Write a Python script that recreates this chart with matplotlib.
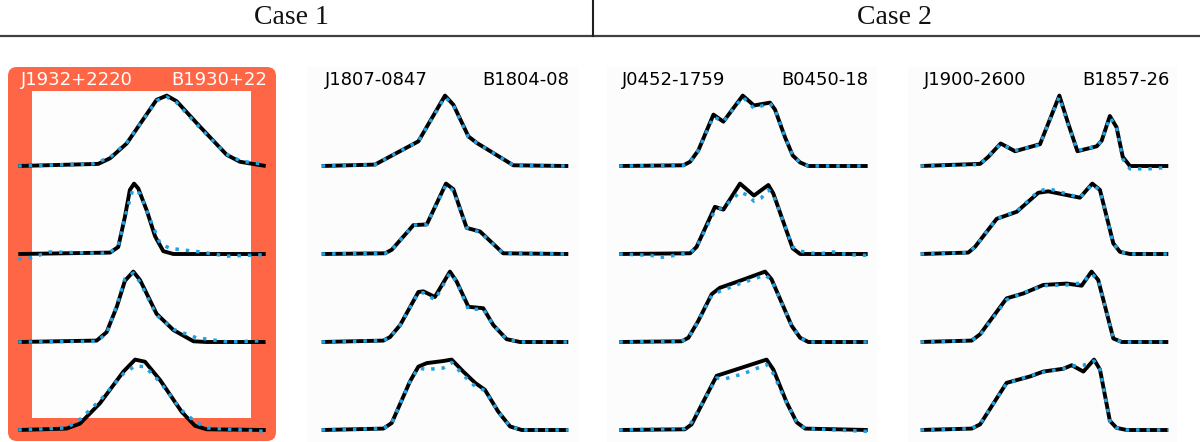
import matplotlib
matplotlib.use("Agg")
import matplotlib.pyplot as plt
from matplotlib.patches import FancyBboxPatch, Rectangle

W, H = 1200, 442

case_labels = ["Case 1", "Case 2"]
j_names = ["J1932+2220", "J1807-0847", "J0452-1759", "J1900-2600"]
b_names = ["B1930+22", "B1804-08", "B0450-18", "B1857-26"]

# ---- J1932+2220 (4 rows, model = solid, obs = dotted) ----
j1932_model_phase = [
    [0, 0.323, 0.371, 0.438, 0.559, 0.600, 0.640, 0.734, 0.842, 0.896, 1.0],
    [0, 0.371, 0.404, 0.431, 0.451, 0.468, 0.485, 0.519, 0.553, 0.586, 0.627, 1.0],
    [0, 0.317, 0.357, 0.398, 0.431, 0.465, 0.492, 0.559, 0.627, 0.708, 0.761, 1.0],
    [0, 0.195, 0.249, 0.330, 0.425, 0.472, 0.512, 0.573, 0.660, 0.714, 0.761, 1.0],
]
j1932_model_amp = [
    [0, 0.03, 0.11, 0.32, 0.94, 1.0, 0.92, 0.56, 0.16, 0.06, 0.0],
    [0, 0.02, 0.10, 0.53, 0.91, 1.0, 0.93, 0.62, 0.25, 0.04, 0.0, 0.0],
    [0, 0.02, 0.14, 0.50, 0.87, 1.0, 0.88, 0.40, 0.17, 0.01, 0.0, 0.0],
    [0, 0.02, 0.09, 0.38, 0.83, 1.0, 0.97, 0.71, 0.26, 0.06, 0.01, 0.0],
]
j1932_obs_phase = [
    [0, 0.30, 0.37, 0.44, 0.56, 0.60, 0.64, 0.74, 0.84, 0.90, 1.0],
    [0, 0.054, 0.128, 0.330, 0.371, 0.404, 0.431, 0.462, 0.492, 0.526, 0.573, 0.613, 0.734, 0.842, 1.0],
    [0, 0.317, 0.357, 0.398, 0.431, 0.465, 0.492, 0.559, 0.627, 0.72, 0.85, 1.0],
    [0, 0.195, 0.249, 0.330, 0.425, 0.472, 0.512, 0.573, 0.660, 0.714, 0.761, 1.0],
]
j1932_obs_amp = [
    [0.0, 0.03, 0.12, 0.34, 0.93, 0.98, 0.90, 0.52, 0.17, 0.07, 0.02],
    [-0.07, -0.05, 0.03, 0.01, 0.02, 0.12, 0.52, 0.91, 0.86, 0.55, 0.15, 0.08, 0.03, -0.03, -0.01],
    [0, 0.01, 0.12, 0.52, 0.90, 0.98, 0.85, 0.38, 0.18, 0.06, 0.0, 0.02],
    [0, 0.03, 0.15, 0.42, 0.80, 0.91, 0.90, 0.68, 0.28, 0.12, 0.03, -0.02],
]

# ---- J1807-0847 ----
j1807_model_phase = [
    [0, 0.216, 0.392, 0.500, 0.534, 0.595, 0.628, 0.777, 1.0],
    [0, 0.257, 0.284, 0.372, 0.426, 0.504, 0.534, 0.588, 0.642, 0.736, 1.0],
    [0, 0.250, 0.277, 0.318, 0.392, 0.412, 0.459, 0.520, 0.547, 0.595, 0.655, 0.696, 0.750, 0.804, 1.0],
    [0, 0.250, 0.284, 0.358, 0.392, 0.426, 0.493, 0.527, 0.574, 0.622, 0.662, 0.716, 0.764, 0.811, 1.0],
]
j1807_model_amp = [
    [0, 0.02, 0.35, 1.0, 0.87, 0.42, 0.33, 0.01, 0],
    [0, 0.01, 0.06, 0.41, 0.42, 1.0, 0.92, 0.37, 0.32, 0.01, 0],
    [0, 0.02, 0.07, 0.24, 0.71, 0.72, 0.64, 1.0, 0.86, 0.50, 0.48, 0.24, 0.04, 0, 0],
    [0, 0.02, 0.10, 0.69, 0.90, 0.95, 0.98, 1.0, 0.83, 0.67, 0.57, 0.26, 0.05, 0, 0],
]
j1807_obs_phase = j1807_model_phase
j1807_obs_amp = [
    [0, 0.02, 0.35, 0.98, 0.86, 0.41, 0.33, 0.01, 0],
    [0, 0.01, 0.06, 0.41, 0.42, 0.98, 0.90, 0.37, 0.31, 0.01, 0],
    [0, 0.02, 0.07, 0.24, 0.70, 0.70, 0.60, 0.98, 0.86, 0.46, 0.47, 0.24, 0.04, 0, 0],
    [0, 0.02, 0.10, 0.69, 0.88, 0.86, 0.88, 0.96, 0.78, 0.62, 0.56, 0.26, 0.05, 0, 0],
]

# ---- J0452-1759 ----
j0452_model_phase = [
    [0, 0.258, 0.285, 0.318, 0.379, 0.419, 0.497, 0.542, 0.607, 0.627, 0.667, 0.698, 0.728, 0.761, 1.0],
    [0, 0.285, 0.311, 0.385, 0.419, 0.486, 0.542, 0.600, 0.620, 0.667, 0.698, 0.728, 1.0],
    [0, 0.251, 0.278, 0.318, 0.372, 0.405, 0.486, 0.587, 0.613, 0.694, 0.728, 0.761, 1.0],
    [0, 0.264, 0.291, 0.392, 0.593, 0.620, 0.674, 0.714, 0.748, 1.0],
]
j0452_model_amp = [
    [0, 0.01, 0.06, 0.22, 0.73, 0.63, 1.0, 0.86, 0.90, 0.80, 0.41, 0.15, 0.05, 0, 0],
    [0, 0.01, 0.10, 0.67, 0.63, 1.0, 0.83, 0.98, 0.86, 0.39, 0.08, 0, 0],
    [0, 0.01, 0.06, 0.30, 0.68, 0.77, 0.87, 1.0, 0.89, 0.23, 0.06, 0, 0],
    [0, 0.01, 0.08, 0.77, 1.0, 0.86, 0.39, 0.11, 0.02, 0],
]
j0452_obs_phase = [
    [0, 0.258, 0.285, 0.318, 0.379, 0.419, 0.497, 0.542, 0.607, 0.627, 0.667, 0.698, 0.728, 0.761, 1.0],
    [0, 0.13, 0.16, 0.19, 0.285, 0.311, 0.385, 0.419, 0.486, 0.52, 0.542, 0.57, 0.600, 0.620,
     0.667, 0.698, 0.728, 0.80, 0.86, 0.92, 1.0],
    [0, 0.251, 0.278, 0.318, 0.372, 0.405, 0.486, 0.587, 0.613, 0.694, 0.728, 0.761, 1.0],
    [0, 0.264, 0.291, 0.392, 0.42, 0.50, 0.593, 0.620, 0.674, 0.714, 0.748, 1.0],
]
j0452_obs_amp = [
    [0, 0.01, 0.06, 0.22, 0.70, 0.63, 0.98, 0.82, 0.89, 0.80, 0.41, 0.15, 0.05, 0, 0],
    [0.0, -0.02, -0.05, -0.04, 0.02, 0.10, 0.62, 0.66, 0.88, 0.83, 0.75, 0.79, 0.91, 0.84,
     0.40, 0.10, 0.04, 0.0, 0.03, -0.01, -0.02],
    [0, 0.01, 0.06, 0.30, 0.66, 0.72, 0.83, 0.95, 0.88, 0.23, 0.06, 0, 0],
    [0, 0.02, 0.11, 0.74, 0.72, 0.80, 0.93, 0.80, 0.38, 0.12, 0.02, -0.02],
]

# ---- J1900-2600 ----
j1900_model_phase = [
    [0, 0.240, 0.273, 0.323, 0.381, 0.482, 0.509, 0.560, 0.596, 0.633, 0.711, 0.731, 0.764, 0.791, 0.816, 0.845, 1.0],
    [0, 0.192, 0.219, 0.307, 0.388, 0.475, 0.515, 0.643, 0.693, 0.724, 0.778, 0.805, 0.845, 1.0],
    [0, 0.206, 0.240, 0.347, 0.415, 0.495, 0.590, 0.650, 0.690, 0.717, 0.778, 0.812, 1.0],
    [0, 0.206, 0.240, 0.347, 0.441, 0.495, 0.576, 0.610, 0.657, 0.700, 0.724, 0.764, 0.791, 0.832, 1.0],
]
j1900_model_amp = [
    [0, 0.03, 0.13, 0.32, 0.21, 0.31, 0.55, 1.0, 0.60, 0.21, 0.28, 0.36, 0.71, 0.55, 0.13, 0, 0],
    [0, 0.02, 0.10, 0.50, 0.60, 0.87, 0.89, 0.80, 1.0, 0.91, 0.15, 0.03, 0, 0],
    [0, 0.02, 0.11, 0.62, 0.69, 0.81, 0.83, 0.80, 1.0, 0.88, 0.05, 0, 0],
    [0, 0.02, 0.08, 0.67, 0.76, 0.83, 0.87, 0.92, 0.83, 1.0, 0.86, 0.13, 0.03, 0, 0],
]
j1900_obs_phase = [
    [0, 0.240, 0.273, 0.323, 0.381, 0.482, 0.509, 0.560, 0.596, 0.633, 0.711, 0.731, 0.764, 0.791, 0.816, 0.845, 0.92, 1.0],
    [0, 0.192, 0.219, 0.307, 0.388, 0.475, 0.515, 0.643, 0.693, 0.724, 0.778, 0.805, 0.845, 1.0],
    [0, 0.206, 0.240, 0.347, 0.415, 0.495, 0.590, 0.650, 0.690, 0.717, 0.778, 0.812, 1.0],
    [0, 0.206, 0.240, 0.347, 0.441, 0.495, 0.576, 0.610, 0.657, 0.700, 0.724, 0.764, 0.791, 0.832, 1.0],
]
j1900_obs_amp = [
    [0, 0.02, 0.14, 0.31, 0.22, 0.30, 0.55, 0.98, 0.58, 0.22, 0.28, 0.36, 0.69, 0.55, 0.10, -0.04, -0.04, -0.02],
    [0, 0.02, 0.10, 0.50, 0.61, 0.89, 0.93, 0.80, 0.99, 0.90, 0.15, 0.03, 0, 0],
    [0, 0.02, 0.10, 0.60, 0.70, 0.80, 0.81, 0.84, 0.97, 0.88, 0.05, 0, 0],
    [0, 0.02, 0.09, 0.66, 0.77, 0.82, 0.87, 0.91, 0.92, 0.98, 0.86, 0.13, 0.03, 0, 0],
]

model_phase = [j1932_model_phase, j1807_model_phase, j0452_model_phase, j1900_model_phase]
model_amp = [j1932_model_amp, j1807_model_amp, j0452_model_amp, j1900_model_amp]
obs_phase = [j1932_obs_phase, j1807_obs_phase, j0452_obs_phase, j1900_obs_phase]
obs_amp = [j1932_obs_amp, j1807_obs_amp, j0452_obs_amp, j1900_obs_amp]

# layout in pixels
box_x = [(8, 276), (307, 578), (607, 877), (908, 1177)]
prof_x = [(18.3, 265.7), (321.7, 568.3), (619.3, 867.7), (920.7, 1168.3)]
box_top, box_bot = 67, 441
base0, row_step = 166, 88
highlight = "#ff6646"
dot_color = "#22a0e0"

fig = plt.figure(figsize=(W / 100, H / 100), dpi=100)

bg = fig.add_axes([0, 0, 1, 1])
bg.set_xlim(0, W)
bg.set_ylim(H, 0)
bg.axis("off")

# header
bg.axhline(35.5, color="#404040", lw=1.6)
bg.plot([593, 593], [0, 36], color="#202020", lw=1.5)
for lab, xc in zip(case_labels, [291, 894]):
    bg.text(xc, 18, lab, ha="center", va="center", fontsize=20,
            family="Liberation Serif", color="#111111")

for i in range(4):
    x0, x1 = box_x[i]
    if i == 0:
        bg.add_patch(FancyBboxPatch((x0, box_top), x1 - x0, box_bot - box_top,
                                    boxstyle="round,pad=0,rounding_size=9",
                                    fc=highlight, ec="none"))
        bg.add_patch(Rectangle((32, 91), 251 - 32, 418 - 91, fc="#fdfdfd", ec="none"))
    else:
        bg.add_patch(Rectangle((x0, box_top - 1), x1 - x0, H - box_top + 1,
                               fc="#fcfcfc", ec="none"))

    p0, p1 = prof_x[i]
    scale = p1 - p0
    ax = fig.add_axes([x0 / W, 1 - box_bot / H, (x1 - x0) / W, (box_bot - box_top) / H])
    ax.set_xlim((x0 - p0) / scale, 1 + (x1 - p1) / scale)
    ax.set_ylim(-(box_bot - base0) / row_step, (base0 - box_top) / row_step)
    ax.axis("off")
    ax.patch.set_alpha(0)

    for r in range(4):
        ym = [-r + 0.8 * a for a in model_amp[i][r]]
        yo = [-r + 0.8 * a for a in obs_amp[i][r]]
        ax.plot(model_phase[i][r], ym, color="black", lw=2.8, solid_joinstyle="round",
                solid_capstyle="butt", zorder=2)
        ax.plot(obs_phase[i][r], yo, color=dot_color, lw=2.5, ls=(0, (1, 2.0)), zorder=3)

    tc = "white" if i == 0 else "black"
    ax.text(0.012, 0.977, j_names[i], ha="left", va="center", fontsize=13, color=tc)
    ax.text(1.004, 0.977, b_names[i], ha="right", va="center", fontsize=13, color=tc)

fig.savefig("out.png", dpi=100)
